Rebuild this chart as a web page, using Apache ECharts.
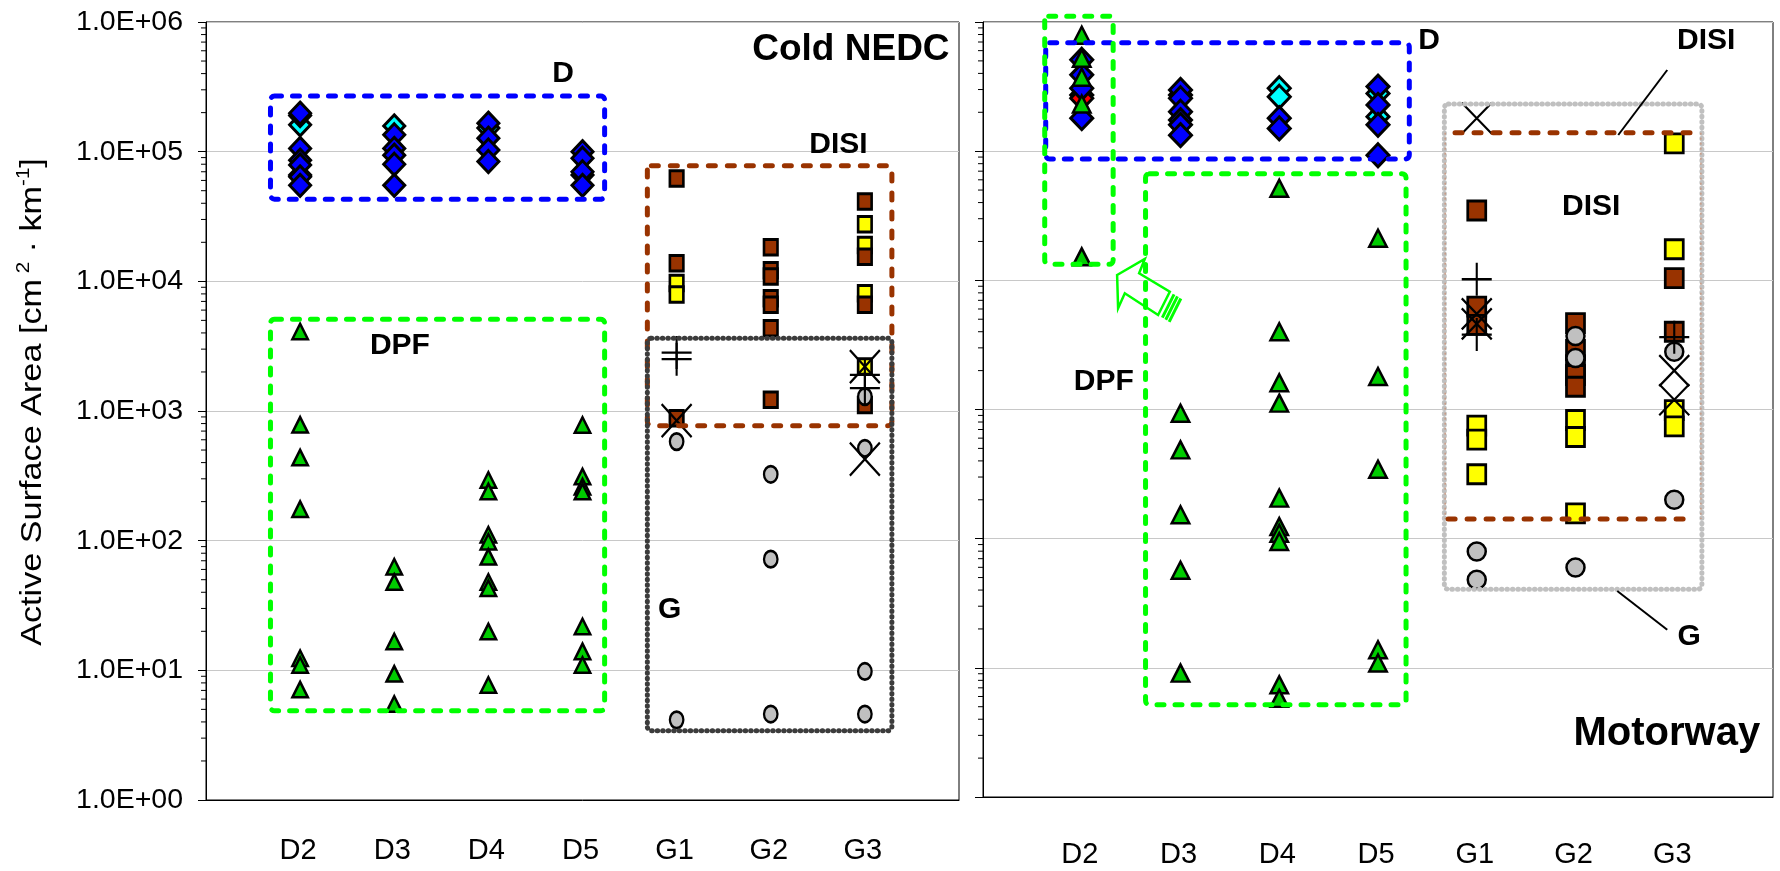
<!DOCTYPE html>
<html>
<head>
<meta charset="utf-8">
<script src="https://cdn.jsdelivr.net/npm/echarts@6/dist/echarts.min.js"></script>
<style>
  html, body { margin: 0; padding: 0; background: #ffffff; }
  #chart { width: 1780px; height: 871px; }
</style>
</head>
<body>
<div id="chart"></div>
<script>
// ---- categories and axis placement ----
const categories = ['D2', 'D3', 'D4', 'D5', 'G1', 'G2', 'G3'];
const coldPos = [1, 2, 3, 4, 5, 6, 7];       // x positions on the Cold NEDC axis (0..8)
const motorwayPos = [1, 2, 3, 4, 5, 6, 7];   // x positions on the Motorway axis (0..8)
const yTickLabels = ['1.0E+00', '1.0E+01', '1.0E+02', '1.0E+03', '1.0E+04', '1.0E+05', '1.0E+06'];

// ---- Cold NEDC: [category index, active surface area cm2/km] ----
const coldCyanDiamond = [[0, 1.61e5], [0, 6.6e4], [1, 1.58e5], [2, 1.52e5], [3, 6.6e4]];
const coldRedDiamond = [[0, 1.9e5]];
const coldBlueDiamond = [[0, 1.98e5], [0, 1.06e5], [0, 8.6e4], [0, 7.9e4], [0, 6.4e4], [0, 5.5e4],
  [1, 1.35e5], [1, 1.06e5], [1, 9.4e4], [1, 8.0e4], [1, 5.5e4],
  [2, 1.66e5], [2, 1.27e5], [2, 1.03e5], [2, 8.4e4],
  [3, 1.0e5], [3, 8.9e4], [3, 7.0e4], [3, 5.5e4]];
const coldTriangle = [[0, 4.1e3], [0, 782], [0, 437], [0, 175], [0, 12.4], [0, 11.0], [0, 7.1],
  [1, 63], [1, 48], [1, 16.7], [1, 9.4], [1, 5.5],
  [2, 294], [2, 239], [2, 111], [2, 98], [2, 75], [2, 48], [2, 43], [2, 19.9], [2, 7.7],
  [3, 780], [3, 312], [3, 261], [3, 239], [3, 21.8], [3, 14.0], [3, 11.0]];
const coldYellowSquare = [[4, 9.7e3], [4, 7.9e3], [6, 2.76e4], [6, 1.91e4], [6, 8.1e3], [6, 2.2e3]];
const coldBrownSquare = [[4, 6.2e4], [4, 1.38e4], [4, 880],
  [5, 1.83e4], [5, 1.22e4], [5, 1.09e4], [5, 7.4e3], [5, 6.6e3], [5, 4.35e3], [5, 1.22e3],
  [6, 4.12e4], [6, 1.55e4], [6, 6.6e3], [6, 1.11e3]];
const coldGreyCircle = [[4, 581], [4, 4.15], [5, 325], [5, 72], [5, 4.6], [6, 1.29e3], [6, 516], [6, 9.8], [6, 4.6]];
const coldCross = [[4, 843], [6, 2.2e3], [6, 425]];
const coldPlus = [[4, 2.82e3], [4, 2.51e3], [6, 1.9e3], [6, 1.5e3]];

// ---- Motorway: [category index, active surface area cm2/km] ----
const motorwayCyanDiamond = [[0, 2.72e5], [1, 2.72e5], [2, 3.07e5], [2, 2.64e5], [3, 2.8e5], [3, 1.85e5]];
const motorwayRedDiamond = [[0, 2.57e5]];
const motorwayBlueDiamond = [[0, 5.1e5], [0, 3.9e5], [0, 3.07e5], [0, 1.8e5],
  [1, 2.98e5], [1, 2.57e5], [1, 2.02e5], [1, 1.74e5], [1, 1.6e5], [1, 1.33e5],
  [2, 1.8e5], [2, 1.5e5],
  [3, 3.16e5], [3, 2.28e5], [3, 1.6e5], [3, 9.3e4]];
const motorwayTriangle = [[0, 7.9e5], [0, 5.24e5], [0, 3.73e5], [0, 2.32e5], [0, 1.52e4],
  [1, 936], [1, 487], [1, 153], [1, 57], [1, 9.1],
  [2, 5.16e4], [2, 4.0e3], [2, 1.61e3], [2, 1.12e3], [2, 206], [2, 124], [2, 110], [2, 95], [2, 7.4], [2, 5.8],
  [3, 2.12e4], [3, 1.8e3], [3, 345], [3, 13.8], [3, 10.9]];
const motorwayYellowSquare = [[4, 750], [4, 584], [4, 315], [5, 830], [5, 612], [5, 157],
  [6, 1.15e5], [6, 1.74e4], [6, 990], [6, 740]];
const motorwayBrownSquare = [[4, 3.47e4], [4, 6.26e3], [4, 4.52e3],
  [5, 4.66e3], [5, 2.89e3], [5, 2.2e3], [5, 1.85e3], [5, 1.5e3],
  [6, 1.04e4], [6, 4.0e3]];
const motorwayGreyCircle = [[4, 79.5], [4, 48], [5, 3.71e3], [5, 2.5e3], [5, 59.7], [6, 2.8e3], [6, 200]];
const motorwayCross = [[4, 1.8e5], [4, 5.5e3], [4, 4.6e3], [6, 2.0e3], [6, 1.19e3]];
const motorwayPlus = [[4, 1.02e4], [4, 3.8e3], [6, 3.63e3]];

// ---- fonts ----
const SANS = '"Liberation Sans", Arial, sans-serif';

// ---- marker styles (inner symbol size, the black outline adds its width) ----
const CROSS_PATH = 'path://M0,0L10,10M10,0L0,10';
const PLUS_PATH = 'path://M5,0L5,10M0,5L10,5';
const markerLook = {
  cyanDiamond:  { symbol: 'diamond',  color: '#00ffff', bw: 3 },
  redDiamond:   { symbol: 'diamond',  color: '#ff0000', bw: 3 },
  blueDiamond:  { symbol: 'diamond',  color: '#0000ff', bw: 3 },
  triangle:     { symbol: 'triangle', color: '#00cc00', bw: 2.5 },
  yellowSquare: { symbol: 'rect',     color: '#ffff00', bw: 2.8 },
  brownSquare:  { symbol: 'rect',     color: '#993300', bw: 2.8 },
  greyCircle:   { symbol: 'circle',   color: '#c0c0c0', bw: 2.5 },
  cross:        { symbol: CROSS_PATH, color: 'rgba(0,0,0,0)', bw: 2.2 },
  plus:         { symbol: PLUS_PATH,  color: 'rgba(0,0,0,0)', bw: 2.2 }
};
const markerSize = [
  { cyanDiamond: [21, 22], redDiamond: [21, 22], blueDiamond: [21, 22], triangle: [15.5, 15.5],
    yellowSquare: [13.5, 15.5], brownSquare: [13.5, 15.5], greyCircle: [13.5, 16.5], cross: [30, 33], plus: [30, 33] },
  { cyanDiamond: [22, 23], redDiamond: [22, 23], blueDiamond: [22, 23], triangle: [17.5, 17],
    yellowSquare: [18, 19], brownSquare: [18, 19], greyCircle: [18, 18], cross: [30, 31], plus: [30, 33] }
];

function toPoints(list, pos) {
  return list.map(([i, v]) => [pos[i], v]);
}

function scatter(grid, kind, list, pos) {
  const m = markerLook[kind];
  return {
    type: 'scatter',
    xAxisIndex: grid, yAxisIndex: grid,
    symbol: m.symbol, symbolSize: markerSize[grid][kind],
    itemStyle: { color: m.color, borderColor: '#000000', borderWidth: m.bw, opacity: 1 },
    emphasis: { disabled: true },
    silent: true,
    data: toPoints(list, pos)
  };
}

const panels = [
  { pos: coldPos, sets: [
    ['cyanDiamond', coldCyanDiamond], ['redDiamond', coldRedDiamond], ['blueDiamond', coldBlueDiamond],
    ['triangle', coldTriangle], ['yellowSquare', coldYellowSquare], ['brownSquare', coldBrownSquare],
    ['greyCircle', coldGreyCircle], ['cross', coldCross], ['plus', coldPlus]] },
  { pos: motorwayPos, sets: [
    ['cyanDiamond', motorwayCyanDiamond], ['redDiamond', motorwayRedDiamond], ['blueDiamond', motorwayBlueDiamond],
    ['triangle', motorwayTriangle], ['yellowSquare', motorwayYellowSquare], ['brownSquare', motorwayBrownSquare],
    ['greyCircle', motorwayGreyCircle], ['cross', motorwayCross], ['plus', motorwayPlus]] }
];

const series = [];
panels.forEach((p, g) => p.sets.forEach(([kind, list]) => series.push(scatter(g, kind, list, p.pos))));

function yAxis(g, showLabels) {
  return {
    type: 'log', logBase: 10, min: 1, max: 1e6, gridIndex: g,
    axisLine: { show: true, lineStyle: { color: '#000000', width: 1 } },
    axisTick: { show: true, length: 8, lineStyle: { color: '#000000', width: 1 } },
    axisLabel: {
      show: showLabels, margin: 23, color: '#000000', fontFamily: SANS, fontSize: 28.5,
      formatter: v => yTickLabels[Math.round(Math.log10(v))]
    },
    splitLine: { show: true, lineStyle: { color: '#c8c8c8', width: 1 } }
  };
}

function xAxis(g) {
  return {
    type: 'value', min: 0, max: 8, gridIndex: g,
    axisLine: { show: true, onZero: false, lineStyle: { color: '#000000', width: 1 } },
    axisTick: { show: false }, axisLabel: { show: false }, splitLine: { show: false }
  };
}

const chart = echarts.init(document.getElementById('chart'), null, { renderer: 'canvas' });
chart.setOption({
  animation: false,
  backgroundColor: '#ffffff',
  grid: [
    { left: 206, top: 22, width: 753, height: 778, show: true, borderColor: '#000000', borderWidth: 1, backgroundColor: 'transparent' },
    { left: 983, top: 22, width: 790, height: 775, show: true, borderColor: '#000000', borderWidth: 1, backgroundColor: 'transparent' }
  ],
  xAxis: [xAxis(0), xAxis(1)],
  yAxis: [yAxis(0, true), yAxis(1, false)],
  series: series
});

// ---- annotation layer (boxes, lines, notes) in data coordinates ----
const px = (g, x, y) => chart.convertToPixel({ gridIndex: g }, [x, y]);

const lineStyles = {
  blue:      { stroke: '#0000ff', lineWidth: 5, lineDash: [7, 11], lineCap: 'round', fill: null },
  green:     { stroke: '#00ff00', lineWidth: 5, lineDash: [7, 11], lineCap: 'round', fill: null },
  brown:     { stroke: '#993300', lineWidth: 5, lineDash: [7, 12], lineCap: 'round', fill: null },
  darkDot:   { stroke: '#3c3c3c', lineWidth: 5, lineDash: [0.5, 5], lineCap: 'round', fill: null },
  lightDot:  { stroke: '#c0c0c0', lineWidth: 5, lineDash: [0.5, 5], lineCap: 'round', fill: null },
  thinBrown: { stroke: '#cc8866', lineWidth: 1, lineDash: [2, 3], fill: null },
  leader:    { stroke: '#000000', lineWidth: 2, fill: null }
};

const annotations = [
  { g: 0, boxes: [
      { x: [0.685, 4.235], y: [2.69e5, 4.3e4], s: 'blue' },
      { x: [0.685, 4.235], y: [5.1e3, 4.87], s: 'green' },
      { x: [4.689, 7.287], y: [7.8e4, 771], s: 'brown' },
      { x: [4.689, 7.287], y: [3640, 3.42], s: 'darkDot' }],
    lines: [],
    notes: [
      { t: 'Cold NEDC', x: 7.9, y: 6.08e5, align: 'right', size: 37 },
      { t: 'D', x: 3.794, y: 3.97e5 },
      { t: 'DISI', x: 6.72, y: 1.13e5 },
      { t: 'DPF', x: 2.06, y: 3.18e3 },
      { t: 'G', x: 4.925, y: 29.3 }] },
  { g: 1, boxes: [
      { x: [0.635, 4.317], y: [6.9e5, 8.7e4], s: 'blue' },
      { x: [0.625, 1.318], y: [1.11e6, 1.33e4], s: 'green' },
      { x: [1.646, 4.284], y: [6.7e4, 5.17], s: 'green' },
      { x: [4.672, 7.28], y: [2.32e5, 40.6], s: 'lightDot' }],
    lines: [
      { p: [[4.68, 1.39e5], [4.68, 142]], s: 'thinBrown' },
      { p: [[7.27, 1.39e5], [7.27, 142]], s: 'thinBrown' },
      { p: [[4.78, 1.39e5], [7.243, 1.39e5]], s: 'brown' },
      { p: [[4.71, 142], [7.19, 142]], s: 'brown' },
      { p: [[6.929, 4.25e5], [6.433, 1.334e5]], s: 'leader' },
      { p: [[6.423, 39.4], [6.929, 19.7]], s: 'leader' }],
    notes: [
      { t: 'D', x: 4.517, y: 7.13e5 },
      { t: 'DISI', x: 7.324, y: 7.13e5 },
      { t: 'DISI', x: 6.159, y: 3.7e4 },
      { t: 'DPF', x: 1.223, y: 1.64e3 },
      { t: 'G', x: 7.152, y: 17.4 },
      { t: 'Motorway', x: 7.87, y: 3.08, align: 'right', size: 40 }] }
];

const graphic = [];
annotations.forEach(a => {
  a.boxes.forEach(b => {
    const p1 = px(a.g, b.x[0], b.y[0]);
    const p2 = px(a.g, b.x[1], b.y[1]);
    graphic.push({
      type: 'rect', z: 100, silent: true,
      shape: { x: p1[0], y: p1[1], width: p2[0] - p1[0], height: p2[1] - p1[1], r: 4 },
      style: Object.assign({}, lineStyles[b.s])
    });
  });
  a.lines.forEach(l => {
    const p1 = px(a.g, l.p[0][0], l.p[0][1]);
    const p2 = px(a.g, l.p[1][0], l.p[1][1]);
    graphic.push({
      type: 'line', z: 101, silent: true,
      shape: { x1: p1[0], y1: p1[1], x2: p2[0], y2: p2[1] },
      style: Object.assign({}, lineStyles[l.s])
    });
  });
  a.notes.forEach(n => {
    const p = px(a.g, n.x, n.y);
    graphic.push({
      type: 'text', z: 102, silent: true, x: p[0], y: p[1],
      style: {
        text: n.t, fill: '#000000',
        font: 'bold ' + (n.size || 30) + 'px ' + SANS,
        align: n.align || 'center', verticalAlign: 'middle'
      }
    });
  });
});

// outlined block arrow pointing at the D2 box of the Motorway panel
const tip = px(1, 1.358, 1.1e4);
const arrowOffsets = [[0, 0], [27.7, -16], [22, -1.7], [52.7, 16.7], [41, 40], [7.7, 18.3], [1, 33.3]];
graphic.push({
  type: 'polygon', z: 101, silent: true,
  shape: { points: arrowOffsets.map(([dx, dy]) => [tip[0] + dx, tip[1] + dy]) },
  style: { stroke: '#00ff00', lineWidth: 2.5, fill: null, lineJoin: 'miter' }
});
[5, 9, 13].forEach(d => {
  const ux = 0.85 * d, uy = 0.527 * d;
  graphic.push({
    type: 'line', z: 101, silent: true,
    shape: { x1: tip[0] + 52.7 + ux, y1: tip[1] + 16.7 + uy, x2: tip[0] + 41 + ux, y2: tip[1] + 40 + uy },
    style: { stroke: '#00ff00', lineWidth: 3 }
  });
});

// minor log ticks on both value axes
[0, 1].forEach(g => {
  for (let n = 0; n < 6; n++) {
    for (let k = 2; k <= 9; k++) {
      const p = px(g, 0, k * Math.pow(10, n));
      graphic.push({
        type: 'line', z: 50, silent: true,
        shape: { x1: p[0] - 5, y1: p[1], x2: p[0], y2: p[1] },
        style: { stroke: '#000000', lineWidth: 1 }
      });
    }
  }
});

// category labels under each panel
const labelY = [851, 855];
[coldPos, motorwayPos].forEach((pos, g) => {
  categories.forEach((c, i) => {
    const p = px(g, pos[i], 1);
    graphic.push({
      type: 'text', z: 102, silent: true, x: p[0] - 2, y: labelY[g],
      style: { text: c, fill: '#000000', font: '29px ' + SANS, align: 'center', verticalAlign: 'middle' }
    });
  });
});

// value axis title
graphic.push({
  type: 'text', z: 102, silent: true, x: 33, y: 402, rotation: Math.PI / 2, scaleX: 1.14,
  style: {
    text: '{a|Active Surface Area [cm}{s| 2}{a| · km}{s|-1}{a|]}',
    align: 'center', verticalAlign: 'middle',
    rich: {
      a: { font: '30px ' + SANS, fill: '#000000', lineHeight: 36 },
      s: { font: '18px ' + SANS, fill: '#000000', verticalAlign: 'top', lineHeight: 36 }
    }
  }
});

chart.setOption({ graphic: graphic });
</script>
</body>
</html>
